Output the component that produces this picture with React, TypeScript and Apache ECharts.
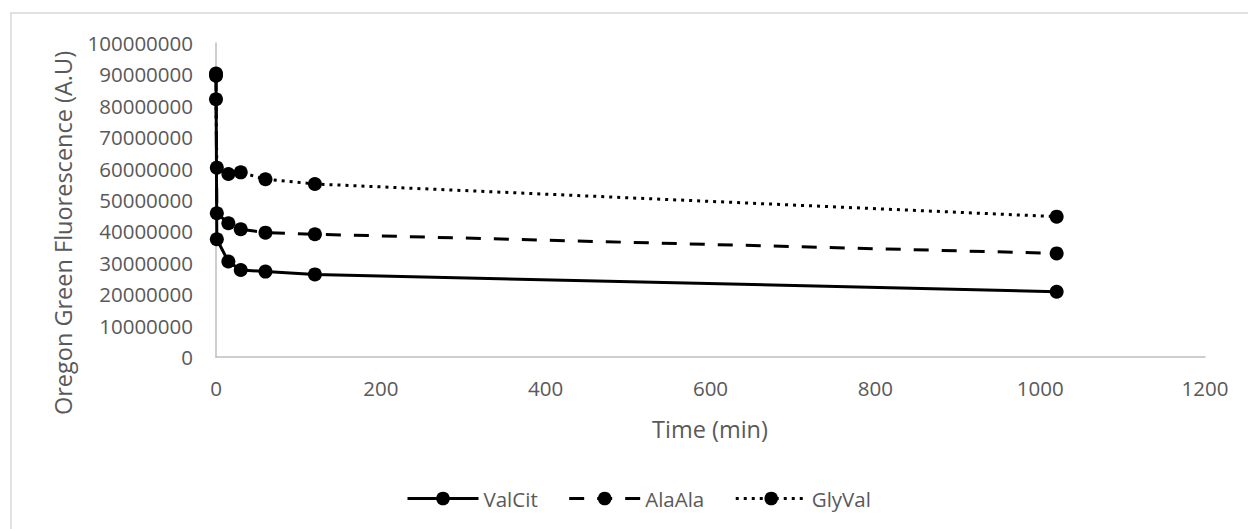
import React, { useEffect, useRef } from "react";
import * as echarts from "echarts";

const times = [0, 1, 15, 30, 60, 120, 1020];
const valCit = [90300000, 37500000, 30400000, 27700000, 27200000, 26300000, 20800000];
const alaAla = [89600000, 45800000, 42600000, 40700000, 39600000, 39100000, 33000000];
const glyVal = [82100000, 60300000, 58300000, 58800000, 56600000, 55100000, 44700000];
const seriesNames = ["ValCit", "AlaAla", "GlyVal"];
const xTitle = "Time (min)";
const yTitle = "Oregon Green Fluorescence (A.U)";

const FONT = "'Open Sans', sans-serif";
const GREY = "#595959";

export default function App() {
  const ref = useRef<HTMLDivElement>(null);
  useEffect(() => {
    if (!ref.current) return;
    const chart = echarts.init(ref.current, undefined, { renderer: "svg" });
    const mk = (name: string, vals: number[], type: any) => ({
      name,
      type: "line",
      data: times.map((t, i) => [t, vals[i]]),
      symbol: "circle",
      symbolSize: 14,
      showSymbol: true,
      itemStyle: { color: "#000" },
      lineStyle: { color: "#000", width: 3, type },
      emphasis: { disabled: true },
    });
    chart.setOption({
      animation: false,
      backgroundColor: "#fff",
      textStyle: { fontFamily: FONT },
      grid: { left: 216, right: 43, top: 43, bottom: 172, containLabel: false },
      xAxis: {
        type: "value",
        min: 0,
        max: 1200,
        interval: 200,
        axisLine: { show: true, lineStyle: { color: "#bfbfbf", width: 1.5 } },
        axisTick: { show: false },
        splitLine: { show: false },
        axisLabel: {
          color: GREY,
          fontSize: 20.5,
          fontFamily: FONT,
          margin: 20,
          formatter: (v: number) => String(v),
        },
      },
      yAxis: {
        type: "value",
        min: 0,
        max: 100000000,
        interval: 10000000,
        axisLine: { show: true, lineStyle: { color: "#bfbfbf", width: 1.5 } },
        axisTick: { show: false },
        splitLine: { show: false },
        axisLabel: {
          color: GREY,
          fontSize: 20.5,
          fontFamily: FONT,
          margin: 23,
          formatter: (v: number) => String(v),
        },
      },
      legend: {
        data: seriesNames,
        left: 406,
        top: 488,
        padding: 0,
        itemWidth: 71,
        itemHeight: 17,
        itemGap: 30,
        lineStyle: { width: 3 },
        textStyle: { color: GREY, fontSize: 20.5, fontFamily: FONT },
      },
      graphic: [
        {
          type: "line",
          shape: { x1: 10, y1: 13, x2: 1248, y2: 13 },
          style: { stroke: "#d9d9d9", lineWidth: 1.5 },
          silent: true,
        },
        {
          type: "line",
          shape: { x1: 11, y1: 13, x2: 11, y2: 529 },
          style: { stroke: "#d9d9d9", lineWidth: 1.5 },
          silent: true,
        },
        {
          type: "text",
          x: 63,
          y: 233,
          rotation: Math.PI / 2,
          style: {
            text: yTitle,
            fill: GREY,
            font: `23.5px ${FONT}`,
            align: "center",
            verticalAlign: "middle",
          },
          silent: true,
        },
        {
          type: "text",
          x: 710,
          y: 429,
          style: {
            text: xTitle,
            fill: GREY,
            font: `23.5px ${FONT}`,
            align: "center",
            verticalAlign: "middle",
          },
          silent: true,
        },
      ],
      series: [
        mk(seriesNames[0], valCit, "solid"),
        mk(seriesNames[1], alaAla, [15, 13]),
        mk(seriesNames[2], glyVal, [3, 5]),
      ],
    });
    return () => chart.dispose();
  }, []);
  return (
    <div
      ref={ref}
      style={{ position: "fixed", left: 0, top: 0, width: 1248, height: 529 }}
    />
  );
}
